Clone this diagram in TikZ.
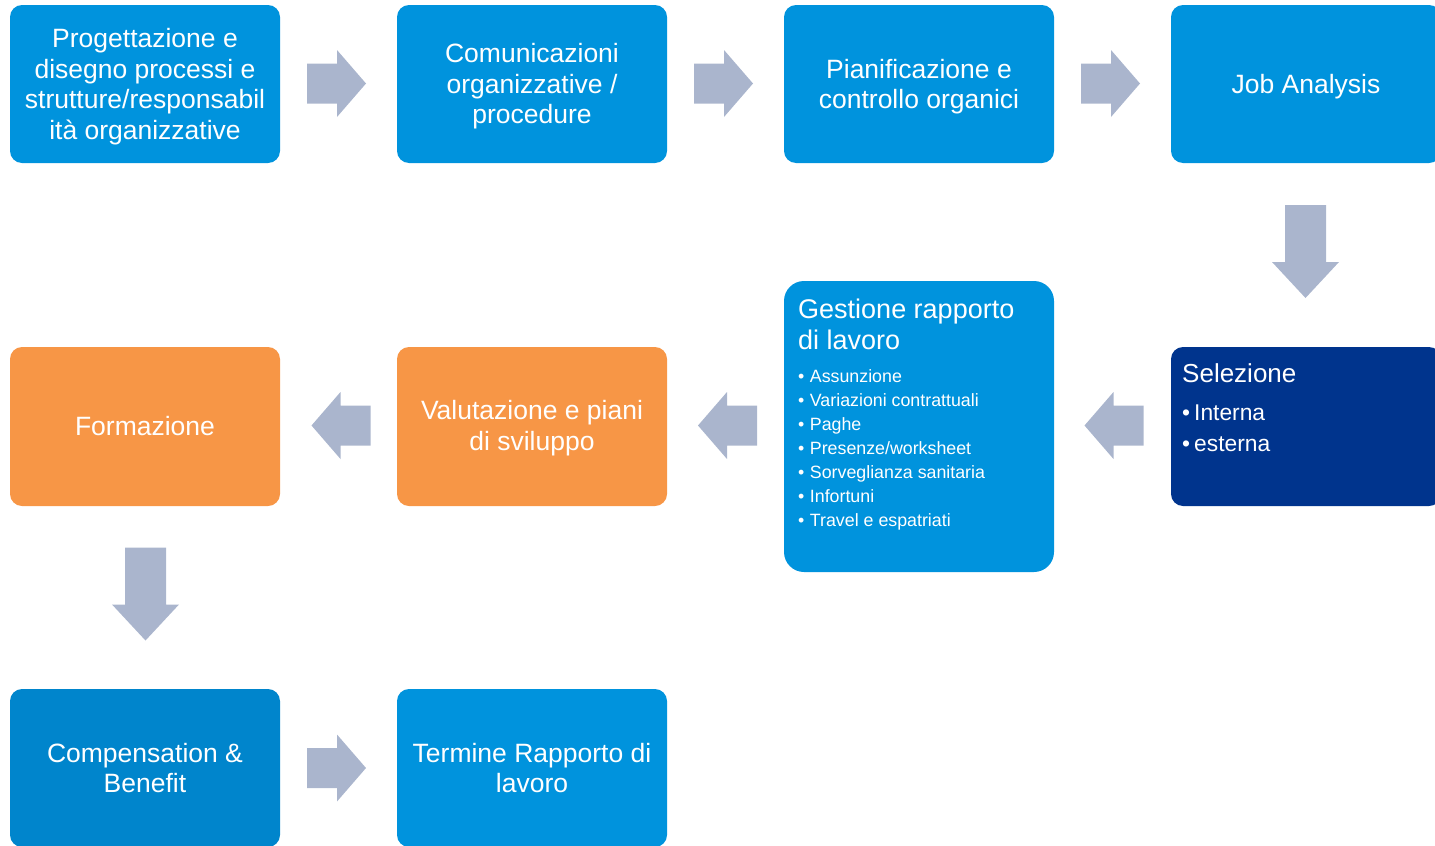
\documentclass[tikz,border=0pt]{standalone}
\usepackage{fontspec}
\setmainfont{Liberation Sans}
\usetikzlibrary{calc}
\definecolor{boxblue}{HTML}{0093DD}
\definecolor{boxdeep}{HTML}{0085CC}
\definecolor{boxnavy}{HTML}{00348D}
\definecolor{boxorange}{HTML}{F79646}
\definecolor{arrowgrey}{HTML}{AAB5CD}
\begin{document}
\begin{tikzpicture}[x=1pt,y=-1pt,
  box/.style={rectangle, rounded corners=12pt, fill=boxblue,
    minimum width=270pt, minimum height=158pt, inner sep=0pt},
  orangebox/.style={box, fill=boxorange, minimum height=159pt},
  boxtext/.style={text=white, align=center, inner sep=0pt,
    font=\fontsize{26.5}{30.5}\selectfont},
  txt/.style={anchor=base west, text=white, inner sep=0pt},
  harrow/.pic={\fill[arrowgrey] (-29.5,-20) -- (0.5,-20) -- (0.5,-33.5) -- (29.5,0)
    -- (0.5,33.5) -- (0.5,20) -- (-29.5,20) -- cycle;},
  varrow/.pic={\fill[arrowgrey] (-46.5,-20.5) -- (10.5,-20.5) -- (10.5,-33.5) -- (46.5,0)
    -- (10.5,33.5) -- (10.5,20.5) -- (-46.5,20.5) -- cycle;}]
\useasboundingbox (0,0) rectangle (1435,846);
\clip (0,0) rectangle (1435,846);

% first row
\node[box] (prog) at (145,84) {};
\node[box] (comm) at (532,84) {};
\node[box] (pian) at (919,84) {};
\node[box] (job) at (1306,84) {};
\node[boxtext] (prog-t) at ($(prog.center)+(0,2.5)$) {Progettazione e\\disegno processi e\\strutture/responsabil\\ità organizzative};
\node[boxtext] (comm-t) at ($(comm.center)+(0,2.5)$) {Comunicazioni\\organizzative /\\procedure};
\node[boxtext] (pian-t) at ($(pian.center)+(0,2.5)$) {Pianificazione e\\controllo organici};
\node[boxtext] (job-t) at ($(job.center)+(0,2.5)$) {Job Analysis};

% second row
\node[box, fill=boxnavy, minimum height=159pt] (sel) at (1306,426.5) {};
\node[box, rounded corners=20pt, minimum height=291pt] (gest) at (919,426.5) {};
\node[orangebox] (val) at (532,426.5) {};
\node[orangebox] (form) at (145,426.5) {};
\node[boxtext] (val-t) at ($(val.center)+(0,1.5)$) {Valutazione e piani\\di sviluppo};
\node[boxtext] (form-t) at ($(form.center)+(0,-0.5)$) {Formazione};

% third row
\node[box, fill=boxdeep] (comp) at (145,768) {};
\node[box] (term) at (532,768) {};
\node[boxtext] (comp-t) at (comp.center) {Compensation \&\\Benefit};
\node[boxtext] (term-t) at (term.center) {Termine Rapporto di\\lavoro};

% Selezione contents
\node[txt, font=\fontsize{26}{31}\selectfont] (seltitle) at (1182,382) {Selezione};
\node[txt, font=\fontsize{22.8}{31}\selectfont] (sel1) at (1182,420) {\textbullet\hspace{4pt}Interna};
\node[txt, font=\fontsize{22.8}{31}\selectfont] (sel2) at (1182,451) {\textbullet\hspace{4pt}esterna};

% Gestione contents
\node[txt, font=\fontsize{27}{31}\selectfont] (gt1) at (798,318) {Gestione rapporto};
\node[txt, font=\fontsize{27}{31}\selectfont] (gt2) at (798,349) {di lavoro};
\foreach \item [count=\i] in {Assunzione, Variazioni contrattuali, Paghe,
    Presenze/worksheet, Sorveglianza sanitaria, Infortuni, Travel e espatriati}
  \node[txt, font=\fontsize{17.8}{24}\selectfont] (gi\i) at (798,{382+24*(\i-1)})
    {\textbullet\hspace{5.5pt}\item};

% block arrows, row one (left to right)
\pic at ($(prog.east)!0.5!(comm.west)+(-2,-0.5)$) {harrow};
\pic at ($(comm.east)!0.5!(pian.west)+(-2,-0.5)$) {harrow};
\pic at ($(pian.east)!0.5!(job.west)+(-2,-0.5)$) {harrow};
% down to Selezione
\pic[rotate=-90] at ($(job.south)!0.5!(sel.north)+(-0.5,-3.5)$) {varrow};
% row two (right to left)
\pic[rotate=180] at ($(gest.east|-sel.center)!0.5!(sel.west)+(1.5,-1)$) {harrow};
\pic[rotate=180] at ($(val.east)!0.5!(gest.west|-val.center)+(2,-1)$) {harrow};
\pic[rotate=180] at ($(form.east)!0.5!(val.west)+(2.5,-1)$) {harrow};
% down to Compensation
\pic[rotate=-90] at ($(form.south)!0.5!(comp.north)+(0.5,-3.5)$) {varrow};
% row three
\pic at ($(comp.east)!0.5!(term.west)+(-2,0)$) {harrow};
\end{tikzpicture}
\end{document}
